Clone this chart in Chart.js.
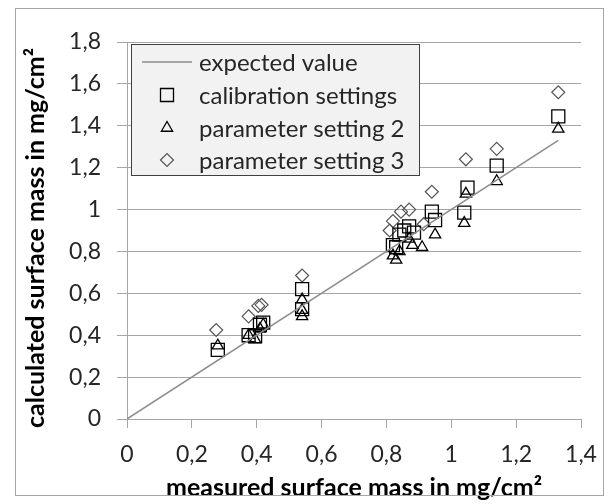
<!DOCTYPE html>
<html>
<head>
<meta charset="utf-8">
<script src="https://cdn.jsdelivr.net/npm/chart.js@4/dist/chart.umd.min.js"></script>
<style>
  html, body { margin: 0; padding: 0; background: #fff; }
  #wrap { width: 611px; height: 504px; }
</style>
</head>
<body>
<div id="wrap"><canvas id="chart" width="611" height="504"></canvas></div>
<script>
// Dados
const seriesNames = ["expected value", "calibration settings", "parameter setting 2", "parameter setting 3"];

const expectedX = [0, 1.33];
const expectedY = [0, 1.33];

const calibX = [0.28, 0.375, 0.395, 0.41, 0.42, 0.54, 0.54, 0.82, 0.83, 0.84, 0.855, 0.87, 0.885, 0.94, 0.95, 1.04, 1.05, 1.14, 1.33];
const calibY = [0.33, 0.40, 0.395, 0.45, 0.46, 0.62, 0.525, 0.83, 0.82, 0.88, 0.90, 0.92, 0.89, 0.99, 0.95, 0.985, 1.105, 1.21, 1.445];

const param2X = [0.28, 0.375, 0.395, 0.41, 0.42, 0.54, 0.54, 0.54, 0.82, 0.83, 0.84, 0.87, 0.88, 0.91, 0.95, 1.04, 1.045, 1.14, 1.33];
const param2Y = [0.35, 0.40, 0.38, 0.43, 0.45, 0.57, 0.52, 0.49, 0.78, 0.76, 0.80, 0.86, 0.83, 0.82, 0.88, 0.935, 1.075, 1.135, 1.385];

const param3X = [0.275, 0.375, 0.405, 0.415, 0.54, 0.81, 0.82, 0.845, 0.87, 0.915, 0.94, 1.045, 1.14, 1.33];
const param3Y = [0.425, 0.49, 0.54, 0.545, 0.685, 0.90, 0.945, 0.99, 1.00, 0.93, 1.085, 1.24, 1.29, 1.56];

const xTicks = [0, 0.2, 0.4, 0.6, 0.8, 1, 1.2, 1.4];
const yTicks = [0, 0.2, 0.4, 0.6, 0.8, 1, 1.2, 1.4, 1.6, 1.8];

const xTitle = "measured surface mass in mg/cm²";
const yTitle = "calculated surface mass in mg/cm²";

const FONT = "Lato, 'Open Sans', sans-serif";

function toPoints(xs, ys) {
  return xs.map((x, i) => ({ x: x, y: ys[i] }));
}

function fmt(v) {
  return String(Math.round(v * 10) / 10).replace(".", ",");
}

// Legenda desenhada dentro da área do gráfico, título do eixo y e moldura externa
const legendPlugin = {
  id: "boxLegend",
  afterDraw(chart) {
    const ctx = chart.ctx;
    ctx.save();
    // moldura externa
    ctx.strokeStyle = "#a6a6a6";
    ctx.lineWidth = 1;
    ctx.strokeRect(15.5, 8.5, 588, 487);

    // título do eixo y (um pouco abaixo do centro, como no original)
    ctx.save();
    ctx.translate(36, 238);
    ctx.rotate(-Math.PI / 2);
    ctx.font = "bold 25px " + FONT;
    ctx.fillStyle = "#000";
    ctx.textAlign = "center";
    ctx.textBaseline = "middle";
    ctx.fillText(yTitle, 0, 0);
    ctx.restore();

    // caixa da legenda
    const bx = 131.5, by = 44.5, bw = 288, bh = 131;
    ctx.fillStyle = "#f2f2f2";
    ctx.fillRect(bx, by, bw, bh);
    ctx.strokeStyle = "#404040";
    ctx.strokeRect(bx, by, bw, bh);

    const rows = [62, 95, 128, 160];
    ctx.font = "24px " + FONT;
    ctx.textBaseline = "middle";
    chart.data.datasets.forEach((ds, i) => {
      const y = rows[i];
      if (i === 0) {
        ctx.strokeStyle = ds.borderColor;
        ctx.lineWidth = 1.5;
        ctx.beginPath();
        ctx.moveTo(142, y);
        ctx.lineTo(192, y);
        ctx.stroke();
      } else {
        ctx.strokeStyle = ds.borderColor;
        ctx.fillStyle = "#f2f2f2";
        ctx.lineWidth = ds.borderWidth;
        Chart.helpers.drawPoint(ctx, {
          pointStyle: ds.pointStyle,
          radius: ds.pointRadius,
          borderWidth: ds.borderWidth
        }, 167, y);
      }
      ctx.fillStyle = "#262626";
      ctx.fillText(ds.label, 199, y + 1);
    });
    ctx.restore();
  }
};

const ctx = document.getElementById("chart").getContext("2d");

new Chart(ctx, {
  type: "scatter",
  data: {
    datasets: [
      {
        type: "line",
        label: seriesNames[0],
        data: toPoints(expectedX, expectedY),
        borderColor: "#8c8c8c",
        borderWidth: 1.5,
        pointRadius: 0,
        fill: false
      },
      {
        label: seriesNames[1],
        data: toPoints(calibX, calibY),
        pointStyle: "rect",
        pointRadius: 9.2,
        borderColor: "#000",
        backgroundColor: "rgba(0,0,0,0)",
        borderWidth: 1.3
      },
      {
        label: seriesNames[2],
        data: toPoints(param2X, param2Y),
        pointStyle: "triangle",
        pointRadius: 6.5,
        borderColor: "#000",
        backgroundColor: "rgba(0,0,0,0)",
        borderWidth: 1.3
      },
      {
        label: seriesNames[3],
        data: toPoints(param3X, param3Y),
        pointStyle: "rectRot",
        pointRadius: 6.5,
        borderColor: "#555",
        backgroundColor: "rgba(0,0,0,0)",
        borderWidth: 1.2
      }
    ]
  },
  options: {
    responsive: false,
    animation: false,
    layout: { padding: { left: 0, right: 30, top: 42, bottom: 0 } },
    plugins: {
      legend: { display: false },
      tooltip: { enabled: false }
    },
    scales: {
      x: {
        type: "linear",
        min: 0,
        max: 1.4,
        afterBuildTicks: axis => { axis.ticks = xTicks.map(v => ({ value: v })); },
        afterFit: axis => { axis.height = 85; },
        grid: {
          drawOnChartArea: false,
          drawTicks: true,
          tickLength: 9,
          color: "#a6a6a6"
        },
        border: { color: "#a6a6a6", width: 1 },
        ticks: {
          padding: 13,
          color: "#262626",
          font: { family: FONT, size: 23 },
          callback: v => fmt(v)
        },
        title: {
          display: true,
          text: xTitle,
          color: "#000",
          font: { family: FONT, size: 25, weight: "bold" },
          padding: { top: 0, bottom: 1 }
        }
      },
      y: {
        type: "linear",
        min: 0,
        max: 1.8,
        afterBuildTicks: axis => { axis.ticks = yTicks.map(v => ({ value: v })); },
        afterFit: axis => { axis.width = 127; },
        grid: {
          drawTicks: true,
          tickLength: 10,
          color: "#a6a6a6"
        },
        border: { color: "#a6a6a6", width: 1 },
        ticks: {
          padding: 16,
          color: "#262626",
          font: { family: FONT, size: 23 },
          callback: v => fmt(v)
        },
        title: { display: false }
      }
    }
  },
  plugins: [legendPlugin]
});
</script>
</body>
</html>
